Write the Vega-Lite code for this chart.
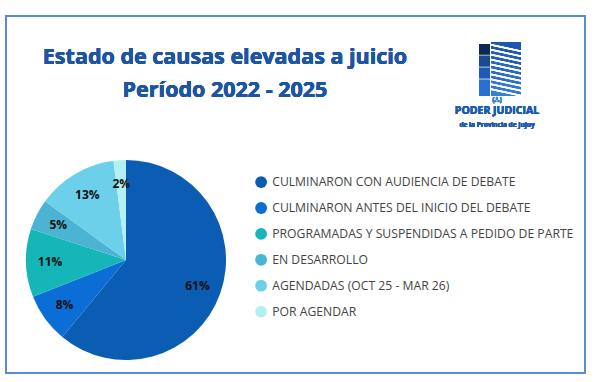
{
  "$schema": "https://vega.github.io/schema/vega-lite/v6.json",
  "width": 600,
  "height": 382,
  "autosize": {"type": "fit", "contains": "padding"},
  "padding": {"left": 6, "top": 16, "right": 15, "bottom": 9},
  "background": "white",
  "config": {"view": {"stroke": "#5b8bd0", "strokeWidth": 2}},
  "data": {"values": [
    {"estado": "CULMINARON CON AUDIENCIA DE DEBATE", "pct": 61, "lbl": "61%", "orden": 1},
    {"estado": "CULMINARON ANTES DEL INICIO DEL DEBATE", "pct": 8, "lbl": "8%", "orden": 2},
    {"estado": "PROGRAMADAS Y SUSPENDIDAS A PEDIDO DE PARTE", "pct": 11, "lbl": "11%", "orden": 3},
    {"estado": "EN DESARROLLO", "pct": 5, "lbl": "5%", "orden": 4},
    {"estado": "AGENDADAS (OCT 25 - MAR 26)", "pct": 13, "lbl": "13%", "orden": 5},
    {"estado": "POR AGENDAR", "pct": 2, "lbl": "2%", "orden": 6}
  ]},
  "layer": [
    {
      "mark": {"type": "arc", "radius": 100},
      "encoding": {
        "x": {"value": 120},
        "y": {"value": 244},
        "theta": {"field": "pct", "type": "quantitative", "stack": true},
        "order": {"field": "orden", "type": "quantitative"},
        "color": {
          "field": "estado", "type": "nominal",
          "scale": {
            "domain": ["CULMINARON CON AUDIENCIA DE DEBATE", "CULMINARON ANTES DEL INICIO DEL DEBATE", "PROGRAMADAS Y SUSPENDIDAS A PEDIDO DE PARTE", "EN DESARROLLO", "AGENDADAS (OCT 25 - MAR 26)", "POR AGENDAR"],
            "range": ["#0b5db3", "#0b6dd6", "#16b6b8", "#4ab4d2", "#6dd0ea", "#b2f0f2"]
          },
          "legend": {
            "orient": "none", "legendX": 249, "legendY": 160,
            "title": null, "symbolType": "circle", "symbolSize": 140,
            "symbolStrokeWidth": 0, "symbolOpacity": 1,
            "labelFont": "Open Sans", "labelFontSize": 12.2, "labelColor": "#444444",
            "labelLimit": 400, "labelOffset": 5, "rowPadding": 12.9
          }
        }
      }
    },
    {
      "mark": {"type": "text", "font": "Open Sans", "fontSize": 12, "fontWeight": "bold", "color": "#111111", "radius": 76},
      "encoding": {
        "x": {"value": 120},
        "y": {"value": 244},
        "theta": {"field": "pct", "type": "quantitative", "stack": true},
        "order": {"field": "orden", "type": "quantitative"},
        "text": {"field": "lbl", "type": "nominal"},
        "detail": {"field": "estado", "type": "nominal"}
      }
    },
    {
      "mark": {"type": "text", "font": "Open Sans", "fontSize": 21.5, "fontWeight": "bold", "color": "#1e55a3", "align": "center", "baseline": "middle", "lineHeight": 33},
      "encoding": {
        "x": {"value": 219},
        "y": {"value": 42},
        "text": {"value": ["Estado de causas elevadas a juicio", "Período 2022 - 2025"]}
      }
    },
    {
      "mark": {"type": "text", "font": "Open Sans", "fontSize": 10.5, "fontWeight": "bold", "color": "#1f5bb0", "align": "center", "baseline": "middle"},
      "encoding": {"x": {"value": 491}, "y": {"value": 95}, "text": {"value": "PODER JUDICIAL"}}
    },
    {
      "mark": {"type": "text", "font": "Open Sans", "fontSize": 6.5, "fontWeight": "bold", "color": "#1f5bb0", "align": "center", "baseline": "middle"},
      "encoding": {"x": {"value": 491}, "y": {"value": 109}, "text": {"value": "de la Provincia de Jujuy"}}
    },
    {
      "mark": {"type": "text", "font": "Open Sans", "fontSize": 7, "fontWeight": "bold", "color": "#3d7fd0", "align": "center", "baseline": "middle"},
      "encoding": {"x": {"value": 491}, "y": {"value": 84}, "text": {"value": "(ஃ)"}}
    },
    {
      "mark": {"type": "rect", "color": {"gradient": "linear", "x1": 0, "y1": 0, "x2": 0, "y2": 1, "stops": [
        {"offset": 0, "color": "#0d2a55"}, {"offset": 0.2, "color": "#0d2a55"}, {"offset": 0.21, "color": "#ffffff"}, {"offset": 0.23, "color": "#1a4a90"},
        {"offset": 0.43, "color": "#1a4a90"}, {"offset": 0.44, "color": "#ffffff"}, {"offset": 0.46, "color": "#1f5bb5"},
        {"offset": 0.66, "color": "#1f5bb5"}, {"offset": 0.67, "color": "#ffffff"}, {"offset": 0.69, "color": "#2a70d0"},
        {"offset": 1, "color": "#2a70d0"}
      ]}},
      "encoding": {"x": {"value": 473}, "x2": {"value": 484}, "y": {"value": 28}, "y2": {"value": 80}}
    },
    {
      "mark": {"type": "rect", "color": {"gradient": "linear", "x1": 0.12, "y1": 0, "x2": 0, "y2": 1, "stops": [
        {"offset": 0, "color": "#1e56b0"}, {"offset": 0.04, "color": "#1e56b0"}, {"offset": 0.05, "color": "#ffffff"}, {"offset": 0.08, "color": "#ffffff"},
        {"offset": 0.09, "color": "#1e56b0"}, {"offset": 0.13, "color": "#1e56b0"}, {"offset": 0.14, "color": "#ffffff"}, {"offset": 0.17, "color": "#ffffff"},
        {"offset": 0.18, "color": "#2260b8"}, {"offset": 0.22, "color": "#2260b8"}, {"offset": 0.23, "color": "#ffffff"}, {"offset": 0.26, "color": "#ffffff"},
        {"offset": 0.27, "color": "#2260b8"}, {"offset": 0.31, "color": "#2260b8"}, {"offset": 0.32, "color": "#ffffff"}, {"offset": 0.35, "color": "#ffffff"},
        {"offset": 0.36, "color": "#2868c0"}, {"offset": 0.40, "color": "#2868c0"}, {"offset": 0.41, "color": "#ffffff"}, {"offset": 0.44, "color": "#ffffff"},
        {"offset": 0.45, "color": "#2868c0"}, {"offset": 0.49, "color": "#2868c0"}, {"offset": 0.50, "color": "#ffffff"}, {"offset": 0.53, "color": "#ffffff"},
        {"offset": 0.54, "color": "#2c70c8"}, {"offset": 0.58, "color": "#2c70c8"}, {"offset": 0.59, "color": "#ffffff"}, {"offset": 0.62, "color": "#ffffff"},
        {"offset": 0.63, "color": "#2c70c8"}, {"offset": 0.67, "color": "#2c70c8"}, {"offset": 0.68, "color": "#ffffff"}, {"offset": 0.71, "color": "#ffffff"},
        {"offset": 0.72, "color": "#3078d0"}, {"offset": 0.76, "color": "#3078d0"}, {"offset": 0.77, "color": "#ffffff"}, {"offset": 0.80, "color": "#ffffff"},
        {"offset": 0.81, "color": "#3078d0"}, {"offset": 0.85, "color": "#3078d0"}, {"offset": 0.86, "color": "#ffffff"}, {"offset": 0.89, "color": "#ffffff"},
        {"offset": 0.90, "color": "#3480d8"}, {"offset": 1, "color": "#3480d8"}
      ]}},
      "encoding": {"x": {"value": 485}, "x2": {"value": 515}, "y": {"value": 26}, "y2": {"value": 80}}
    }
  ]
}
